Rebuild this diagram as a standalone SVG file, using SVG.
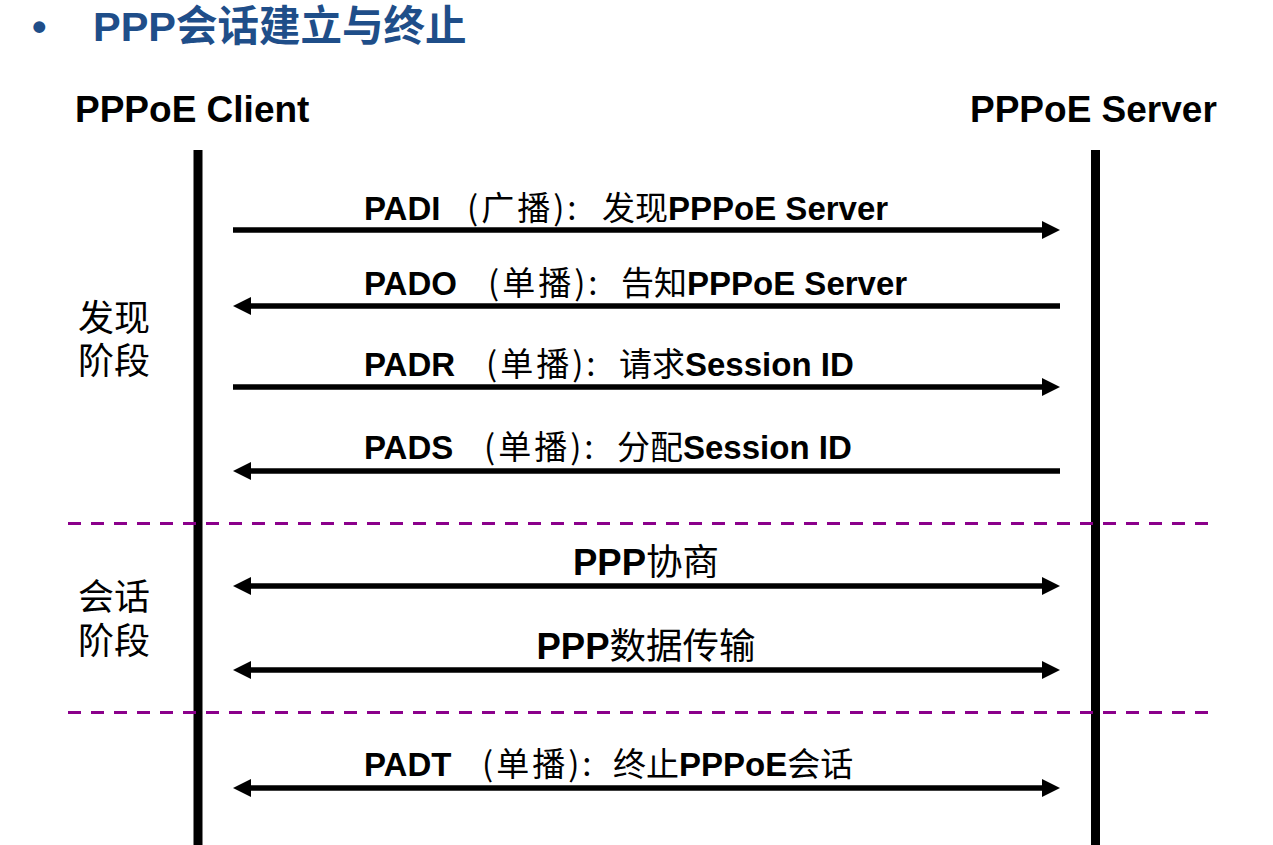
<svg xmlns="http://www.w3.org/2000/svg" width="1273" height="845" viewBox="0 0 1273 845">
<style>
.lat{font-family:"Liberation Sans","Noto Sans CJK SC",sans-serif;font-weight:bold;fill:#000}
.cjk{font-family:"Noto Sans CJK SC",sans-serif;font-weight:normal}
.par{letter-spacing:3px}
.msg{font-size:33px}
.big{font-size:36.5px}
.hdr{font-size:37px}
.side{font-family:"Noto Sans CJK SC",sans-serif;font-size:36px;fill:#000}
.title{font-family:"Liberation Sans","Noto Sans CJK SC",sans-serif;font-weight:bold;font-size:41.5px;fill:#1F4E89}
.life{stroke:#000;stroke-width:9;fill:none}
.arr{stroke:#000;stroke-width:5.5;fill:none}
.div{stroke:#8B008B;stroke-width:3;stroke-dasharray:13 10;fill:none}
</style>
<defs>
<marker id="ah" markerUnits="userSpaceOnUse" markerWidth="18" markerHeight="18" refX="0" refY="9" orient="auto-start-reverse">
<path d="M0,0 L18,9 L0,18 z" fill="#000"/>
</marker>
</defs>
<g id="title">
<text x="32" y="41" class="title" font-size="30">•</text>
<text x="93" y="41" class="title">PPP<tspan font-family="Noto Sans CJK SC, sans-serif">会话建立与终止</tspan></text>
</g>
<g id="client">
<text x="75" y="122" class="lat hdr">PPPoE Client</text>
<line x1="198" y1="150" x2="198" y2="845" class="life"/>
</g>
<g id="server">
<text x="970" y="122" class="lat hdr">PPPoE Server</text>
<line x1="1095.5" y1="150" x2="1095.5" y2="845" class="life"/>
</g>
<g id="phase-discovery">
<text class="side"><tspan x="78" y="331">发现</tspan><tspan x="78" y="374">阶段</tspan></text>
</g>
<g id="phase-session">
<text class="side"><tspan x="78" y="610">会话</tspan><tspan x="78" y="654">阶段</tspan></text>
</g>
<g id="dividers">
<path d="M68,523.5 H1215" class="div"/>
<path d="M68,712.5 H1215" class="div"/>
</g>
<g id="connectors">
<path d="M233,230 H1042" class="arr" marker-end="url(#ah)"/>
<path d="M1060,306 H251" class="arr" marker-end="url(#ah)"/>
<path d="M233,387 H1042" class="arr" marker-end="url(#ah)"/>
<path d="M1060,471 H251" class="arr" marker-end="url(#ah)"/>
<path d="M251,586 H1042" class="arr" marker-start="url(#ah)" marker-end="url(#ah)"/>
<path d="M251,670 H1042" class="arr" marker-start="url(#ah)" marker-end="url(#ah)"/>
<path d="M251,788 H1042" class="arr" marker-start="url(#ah)" marker-end="url(#ah)"/>
</g>
<g id="labels">
<text x="364" y="220" class="lat msg">PADI<tspan x="467" class="cjk par">(广播):</tspan><tspan x="602" class="cjk">发现</tspan>PPPoE Server</text>
<text x="364" y="295" class="lat msg">PADO<tspan x="488" class="cjk par">(单播):</tspan><tspan x="621" class="cjk">告知</tspan>PPPoE Server</text>
<text x="364" y="376" class="lat msg">PADR<tspan x="486" class="cjk par">(单播):</tspan><tspan x="619" class="cjk">请求</tspan>Session ID</text>
<text x="364" y="459" class="lat msg">PADS<tspan x="484" class="cjk par">(单播):</tspan><tspan x="617" class="cjk">分配</tspan>Session ID</text>
<text x="646" y="575" class="lat big" text-anchor="middle">PPP<tspan class="cjk">协商</tspan></text>
<text x="646" y="659" class="lat big" text-anchor="middle">PPP<tspan class="cjk">数据传输</tspan></text>
<text x="364" y="776" class="lat msg">PADT<tspan x="482" class="cjk par">(单播):</tspan><tspan x="613" class="cjk">终止</tspan>PPPoE<tspan class="cjk">会话</tspan></text>
</g>
</svg>
